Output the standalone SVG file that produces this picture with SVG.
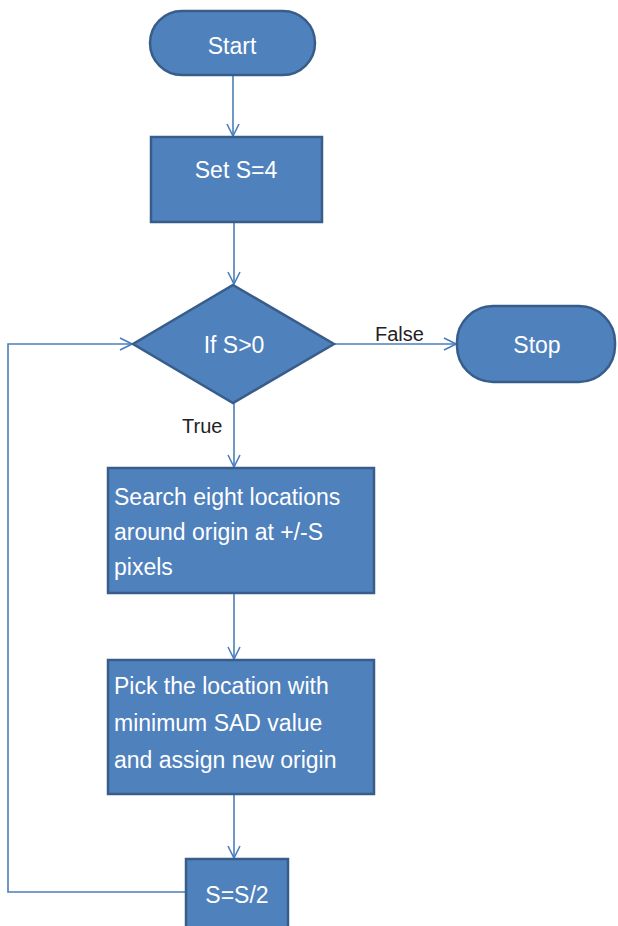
<svg xmlns="http://www.w3.org/2000/svg" width="618" height="926" viewBox="0 0 618 926">
<defs>
<style>
.shape{fill:#4F81BD;stroke:#385D8A;stroke-width:2.5}
.conn{fill:none;stroke:#4A7EBB;stroke-width:1.6}
.t{font-family:"Liberation Sans",Arial,sans-serif;font-size:23px;fill:#ffffff}
.c{text-anchor:middle}
.lbl{font-family:"Liberation Sans",Arial,sans-serif;font-size:20px;fill:#222222}
</style>
<marker id="arr" viewBox="0 0 14 14" refX="13" refY="7" markerWidth="14" markerHeight="14" markerUnits="userSpaceOnUse" orient="auto">
<path d="M1,1 L13,7 L1,13" fill="none" stroke="#4A7EBB" stroke-width="1.6"/>
</marker>
</defs>
<rect width="618" height="926" fill="#ffffff"/>
<g id="connectors">
<line class="conn" x1="233" y1="75" x2="233" y2="136" marker-end="url(#arr)"/>
<line class="conn" x1="234" y1="222" x2="234" y2="284" marker-end="url(#arr)"/>
<line class="conn" x1="334" y1="344" x2="456" y2="344" marker-end="url(#arr)"/>
<line class="conn" x1="234" y1="403" x2="234" y2="467" marker-end="url(#arr)"/>
<line class="conn" x1="234" y1="593" x2="234" y2="659" marker-end="url(#arr)"/>
<line class="conn" x1="234" y1="794" x2="234" y2="858" marker-end="url(#arr)"/>
<polyline class="conn" points="186,892 8,892 8,344 132,344" marker-end="url(#arr)"/>
<text class="lbl" x="375" y="341">False</text>
<text class="lbl" x="182" y="433">True</text>
</g>
<g id="start">
<rect class="shape" x="150" y="11" width="165" height="64" rx="32" ry="32"/>
<text class="t c" x="232" y="54">Start</text>
</g>
<g id="set">
<rect class="shape" x="151" y="137" width="171" height="85"/>
<text class="t c" x="236" y="178">Set S=4</text>
</g>
<g id="decision">
<polygon class="shape" points="233,285 334,344 233,403 133,344"/>
<text class="t c" x="234" y="353">If S&gt;0</text>
</g>
<g id="stop">
<rect class="shape" x="457" y="306" width="158" height="76" rx="36" ry="36"/>
<text class="t c" x="537" y="353">Stop</text>
</g>
<g id="search">
<rect class="shape" x="108" y="468" width="266" height="125"/>
<text class="t" x="114" y="505">Search eight locations</text>
<text class="t" x="114" y="540">around origin at +/-S</text>
<text class="t" x="114" y="575">pixels</text>
</g>
<g id="pick">
<rect class="shape" x="108" y="660" width="266" height="134"/>
<text class="t" x="114" y="694">Pick the location with</text>
<text class="t" x="114" y="731">minimum SAD value</text>
<text class="t" x="114" y="768">and assign new origin</text>
</g>
<g id="halve">
<rect class="shape" x="186" y="859" width="102" height="80"/>
<text class="t c" x="237" y="903">S=S/2</text>
</g>
</svg>
